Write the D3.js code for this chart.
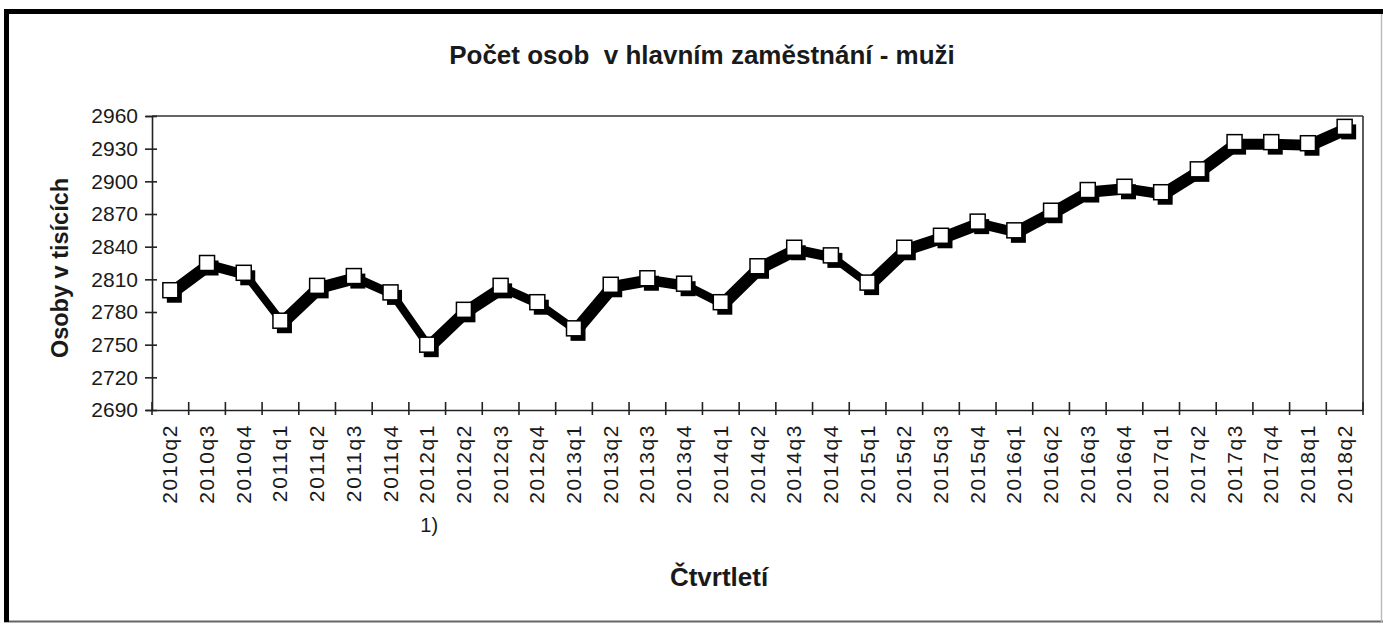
<!DOCTYPE html>
<html>
<head>
<meta charset="utf-8">
<script src="https://cdn.jsdelivr.net/npm/d3@7"></script>
<style>
  html, body { margin: 0; padding: 0; background: #fff; }
  svg { display: block; }
  text { font-family: "Liberation Sans", Arial, sans-serif; fill: #1a1a1a; }
</style>
</head>
<body>
<svg id="chart" width="1383" height="624"></svg>
<script>
const categories = [
  "2010q2","2010q3","2010q4","2011q1","2011q2","2011q3","2011q4",
  "2012q1","2012q2","2012q3","2012q4","2013q1","2013q2","2013q3","2013q4",
  "2014q1","2014q2","2014q3","2014q4","2015q1","2015q2","2015q3","2015q4",
  "2016q1","2016q2","2016q3","2016q4","2017q1","2017q2","2017q3","2017q4",
  "2018q1","2018q2"
];
const values = [
  2800, 2825, 2816, 2772, 2804, 2813, 2798,
  2750, 2782, 2804, 2789, 2765, 2805, 2811, 2806,
  2789, 2822, 2839, 2832, 2807, 2839, 2850, 2863,
  2855, 2873, 2892, 2895, 2890, 2911, 2936, 2936,
  2935, 2950
];
const yTicks = [2690, 2720, 2750, 2780, 2810, 2840, 2870, 2900, 2930, 2960];
const titleText = "Počet osob  v hlavním zaměstnání - muži";
const yTitle = "Osoby v tisících";
const xTitle = "Čtvrtletí";
const footnote = { category: "2012q1", text: "1)" };

const svg = d3.select("#chart");
const plot = { left: 152, right: 1363, top: 116, bottom: 410 };

const x = d3.scaleBand().domain(categories).range([plot.left, plot.right]).padding(0);
const y = d3.scaleLinear().domain([2690, 2960]).range([plot.bottom, plot.top]);
const cx = c => x(c) + x.bandwidth() / 2;

// outer frame
svg.append("line").attr("x1", 4).attr("x2", 1383).attr("y1", 621.5).attr("y2", 621.5)
  .attr("stroke", "#666").attr("stroke-width", 2);
svg.append("line").attr("x1", 1381.5).attr("x2", 1381.5).attr("y1", 9).attr("y2", 622)
  .attr("stroke", "#bbb").attr("stroke-width", 1.5);
svg.append("line").attr("x1", 4).attr("x2", 1383).attr("y1", 11.5).attr("y2", 11.5)
  .attr("stroke", "#000").attr("stroke-width", 5);
svg.append("line").attr("x1", 6.5).attr("x2", 6.5).attr("y1", 9).attr("y2", 622)
  .attr("stroke", "#000").attr("stroke-width", 5);

// title
svg.append("text").attr("x", 702).attr("y", 64).attr("text-anchor", "middle")
  .style("white-space", "pre")
  .attr("font-size", 26).attr("font-weight", "bold").text(titleText);

// plot frame top/right
svg.append("line").attr("x1", plot.left).attr("x2", plot.right).attr("y1", plot.top).attr("y2", plot.top)
  .attr("stroke", "#333").attr("stroke-width", 1.6);
svg.append("line").attr("x1", plot.right).attr("x2", plot.right).attr("y1", plot.top).attr("y2", plot.bottom)
  .attr("stroke", "#333").attr("stroke-width", 1.6);

// y axis
const yAxis = svg.append("g").attr("transform", `translate(${plot.left},0)`)
  .call(d3.axisLeft(y).tickValues(yTicks).tickSize(6).tickPadding(8).tickFormat(d3.format("d")));
yAxis.select(".domain").attr("stroke", "#222").attr("stroke-width", 1.6);
yAxis.selectAll(".tick line").attr("x1", -7).attr("x2", 5).attr("stroke", "#222").attr("stroke-width", 1.6);
yAxis.selectAll(".tick text").attr("font-size", 21).attr("fill", "#1a1a1a")
  .attr("font-family", "Liberation Sans, Arial, sans-serif");

// x axis
const xAxis = svg.append("g").attr("transform", `translate(0,${plot.bottom})`)
  .call(d3.axisBottom(x).tickSize(0).tickPadding(0));
xAxis.select(".domain").attr("stroke", "#222").attr("stroke-width", 1.6);
xAxis.selectAll(".tick text")
  .attr("font-size", 21).attr("fill", "#1a1a1a")
  .attr("font-family", "Liberation Sans, Arial, sans-serif")
  .attr("text-anchor", "end")
  .attr("dy", null)
  .attr("transform", "translate(7,14) rotate(-90)")
  .attr("letter-spacing", 1.6);
const boundaries = categories.map(c => x(c)).concat([plot.right]);
svg.append("g").selectAll("line").data(boundaries).join("line")
  .attr("x1", d => d).attr("x2", d => d)
  .attr("y1", plot.bottom - 8).attr("y2", plot.bottom + 5)
  .attr("stroke", "#222").attr("stroke-width", 1.6);

// footnote under 2012q1
svg.append("text").attr("x", cx(footnote.category) + 2).attr("y", 532)
  .attr("text-anchor", "middle").attr("font-size", 20).text(footnote.text);

// axis titles
svg.append("text").attr("x", 719).attr("y", 586).attr("text-anchor", "middle")
  .attr("font-size", 26).attr("font-weight", "bold").text(xTitle);
svg.append("text").attr("transform", `translate(68,268) rotate(-90)`)
  .attr("text-anchor", "middle").attr("font-size", 23.5).attr("font-weight", "bold").text(yTitle);

// series
const data = categories.map((c, i) => ({ c, v: values[i] }));
const line = d3.line().x(d => cx(d.c)).y(d => y(d.v));
const sdx = 4, sdy = 4;
svg.append("path").datum(data).attr("d", line)
  .attr("transform", `translate(${sdx},${sdy})`)
  .attr("fill", "none").attr("stroke", "#000").attr("stroke-width", 7).attr("stroke-linejoin", "round");
svg.append("path").datum(data).attr("d", line)
  .attr("fill", "none").attr("stroke", "#000").attr("stroke-width", 7).attr("stroke-linejoin", "round");

const ms = 15;
svg.append("g").selectAll("rect").data(data).join("rect")
  .attr("x", d => cx(d.c) - ms / 2 + sdx).attr("y", d => y(d.v) - ms / 2 + sdy + 1)
  .attr("width", ms).attr("height", ms).attr("fill", "#000");
svg.append("g").selectAll("rect").data(data).join("rect")
  .attr("x", d => cx(d.c) - ms / 2).attr("y", d => y(d.v) - ms / 2)
  .attr("width", ms).attr("height", ms)
  .attr("fill", "#fff").attr("stroke", "#000").attr("stroke-width", 1.5);
</script>
</body>
</html>
